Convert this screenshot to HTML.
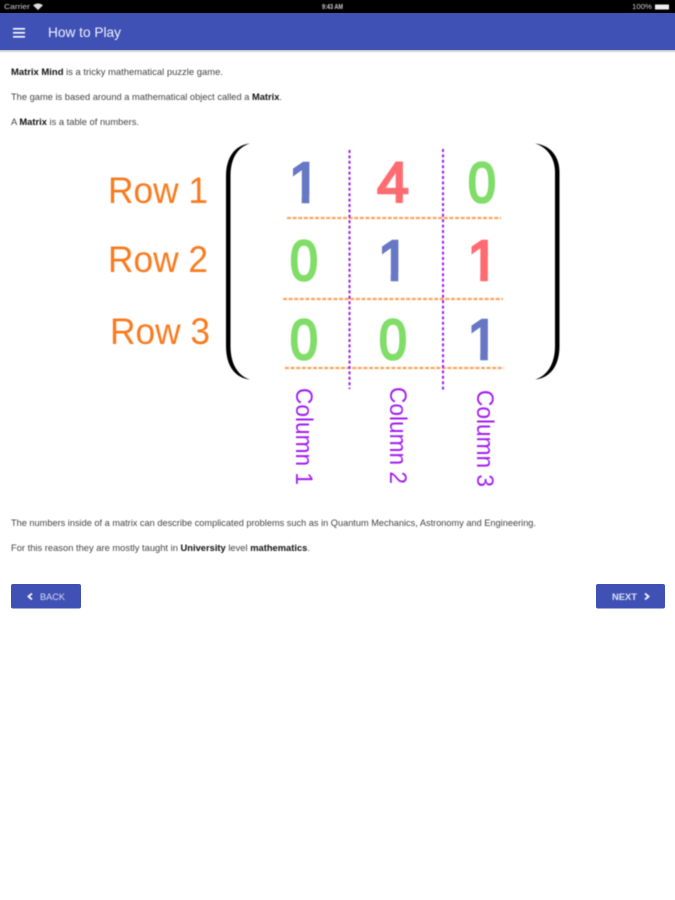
<!DOCTYPE html>
<html><head><meta charset="utf-8"><title>How to Play</title>
<style>
html,body{margin:0;padding:0;background:#fff}
svg{display:block;font-family:"Liberation Sans",sans-serif}
.t{filter:blur(.45px)}
.p{font-size:9.5px;fill:#444}
.d{font-size:57px;stroke-width:2.5px}
.m{text-anchor:middle}
.r{font-size:37px;fill:#f97b1f}
.c{font-size:24px;fill:#a11df0}
.b{fill:#6677c4;stroke:#6677c4}.o{fill:#ff6b70;stroke:#ff6b70}.g{fill:#80dd68;stroke:#80dd68}
</style></head><body>
<svg width="675" height="900" viewBox="0 0 675 900" xmlns="http://www.w3.org/2000/svg">
<defs><linearGradient id="s" x1="0" y1="0" x2="0" y2="1"><stop offset="0" stop-color="#bbb"/><stop offset="1" stop-color="#fff"/></linearGradient></defs>
<rect width="675" height="900" fill="#fff"/>
<rect width="675" height="13" fill="#000"/>
<rect y="13" width="675" height="37" fill="#3f51b5"/>
<rect y="50" width="675" height="3" fill="url(#s)"/>
<g class="t">
<text x="4" y="9" font-size="7" fill="#ccc" textLength="26" lengthAdjust="spacingAndGlyphs">Carrier</text>
<path d="M33 5.200Q38 1.600 43 5.200L38 10Z" fill="#ddd"/>
<text x="322" y="9" font-size="7" font-weight="bold" fill="#ccc" textLength="21" lengthAdjust="spacingAndGlyphs">9:43 AM</text>
<text x="632" y="9" font-size="7" fill="#ccc" textLength="20" lengthAdjust="spacingAndGlyphs">100%</text>
<rect x="655" y="4.500" width="14" height="5" fill="#eee"/>
<rect x="13" y="28" width="12" height="1.600" fill="#fff"/><rect x="13" y="32" width="12" height="1.600" fill="#fff"/><rect x="13" y="36" width="12" height="1.600" fill="#fff"/>
<text x="48" y="37" font-size="14" fill="#f2f3fb" textLength="73" lengthAdjust="spacingAndGlyphs">How to Play</text>
<text class="p" x="11" y="75" textLength="212" lengthAdjust="spacingAndGlyphs"><tspan font-weight="bold" fill="#111">Matrix Mind</tspan> is a tricky mathematical puzzle game.</text>
<text class="p" x="11" y="100" textLength="271" lengthAdjust="spacingAndGlyphs">The game is based around a mathematical object called a <tspan font-weight="bold" fill="#111">Matrix</tspan>.</text>
<text class="p" x="11" y="125" textLength="128" lengthAdjust="spacingAndGlyphs">A <tspan font-weight="bold" fill="#111">Matrix</tspan> is a table of numbers.</text>
<text class="p" x="11" y="526" textLength="525" lengthAdjust="spacingAndGlyphs">The numbers inside of a matrix can describe complicated problems such as in Quantum Mechanics, Astronomy and Engineering.</text>
<text class="p" x="11" y="551" textLength="299" lengthAdjust="spacingAndGlyphs">For this reason they are mostly taught in <tspan font-weight="bold" fill="#111">University</tspan> level <tspan font-weight="bold" fill="#111">mathematics</tspan>.</text>
</g>
<g class="t">
<path d="M250 143.500C235 145 226 157 226 176V346C226 366 235 378 250 379.500C238 376 230.500 364 230.500 346V176C230.500 158 238 147 250 143.500Z" fill="#000"/>
<path d="M535 143.500C550 145 559.500 156 559.500 172V346C559.500 366 550 378 535 379.500C547 376 555 364 555 346V172C555 158 547 147 535 143.500Z" fill="#000"/>
<text class="r" x="108" y="203" textLength="100" lengthAdjust="spacingAndGlyphs">Row 1</text>
<text class="r" x="108" y="272" textLength="100" lengthAdjust="spacingAndGlyphs">Row 2</text>
<text class="r" x="110" y="344" textLength="100" lengthAdjust="spacingAndGlyphs">Row 3</text>
<text class="d b" x="288.700" y="202">1</text>
<text class="d o m" x="393" y="202">4</text>
<text class="d g m" transform="translate(482 202) scale(.88 1)">0</text>
<text class="d g m" transform="translate(304 280) scale(.88 1)">0</text>
<text class="d b" x="377.700" y="280">1</text>
<text class="d o" x="467.200" y="280">1</text>
<text class="d g m" transform="translate(304 359) scale(.88 1)">0</text>
<text class="d g m" transform="translate(393 359) scale(.88 1)">0</text>
<text class="d b" x="467.200" y="359">1</text>
<g fill="#fff">
<rect x="288" y="195" width="13.700" height="9.500"/><rect x="309.300" y="195" width="14" height="9.500"/>
<rect x="377" y="273" width="13.700" height="9.500"/><rect x="398.300" y="273" width="14" height="9.500"/>
<rect x="466.500" y="273" width="13.700" height="9.500"/><rect x="487.800" y="273" width="14" height="9.500"/>
<rect x="466.500" y="352" width="13.700" height="9.500"/><rect x="487.800" y="352" width="14" height="9.500"/>
</g>
<g stroke="#f9a55f" stroke-width="2.200" stroke-dasharray="4 1.600" fill="none">
<path d="M287 218H501"/><path d="M283 299H503"/><path d="M285 368H504"/>
</g>
<g stroke="#a11df0" stroke-width="2" stroke-dasharray="3 2.400" fill="none">
<path d="M349.500 150V389"/><path d="M443 149V390"/>
</g>
<text class="c" transform="translate(296 388) rotate(90)" textLength="97" lengthAdjust="spacingAndGlyphs">Column 1</text>
<text class="c" transform="translate(390 387) rotate(90)" textLength="97" lengthAdjust="spacingAndGlyphs">Column 2</text>
<text class="c" transform="translate(477 390) rotate(90)" textLength="97" lengthAdjust="spacingAndGlyphs">Column 3</text>
</g>
<rect x="11" y="584" width="70" height="24.500" rx="2" fill="#3f51b5"/>
<rect x="596" y="584" width="69" height="24.500" rx="2" fill="#3f51b5"/>
<g class="t">
<path d="M32 593.500L28.500 596.500L32 599.500" fill="none" stroke="#fff" stroke-width="1.800"/>
<text x="40" y="600" font-size="9" fill="#d9ddf3" textLength="25" lengthAdjust="spacingAndGlyphs">BACK</text>
<text x="612" y="600" font-size="9" font-weight="bold" fill="#dfe3f6" textLength="25" lengthAdjust="spacingAndGlyphs">NEXT</text>
<path d="M645 593.500L648.500 596.500L645 599.500" fill="none" stroke="#fff" stroke-width="1.800"/>
</g>
</svg>
</body></html>
